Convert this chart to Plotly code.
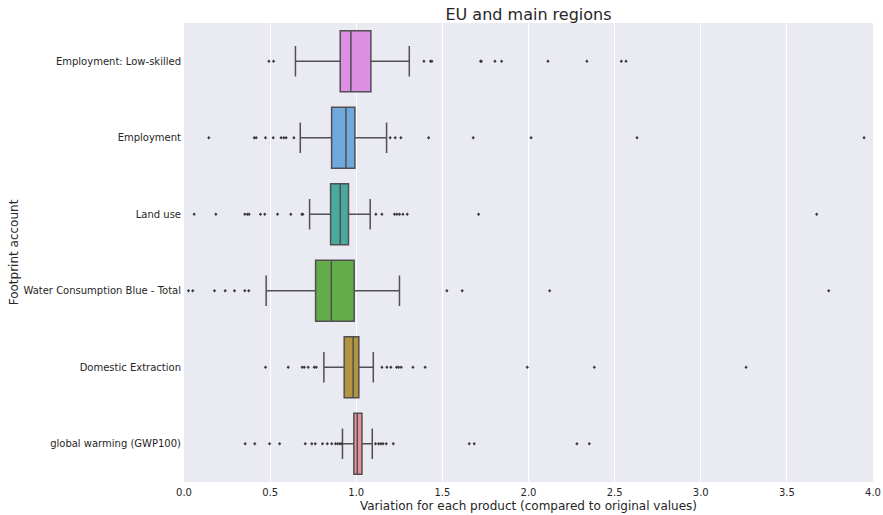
import plotly.graph_objects as go

categories = ["Employment: Low-skilled", "Employment", "Land use",
              "Water Consumption Blue - Total", "Domestic Extraction",
              "global warming (GWP100)"]

q1 = [0.907, 0.857, 0.851, 0.764, 0.930, 0.986]
median = [0.969, 0.940, 0.907, 0.855, 0.982, 1.006]
q3 = [1.085, 0.992, 0.955, 0.988, 1.015, 1.033]
lower_whisker = [0.647, 0.675, 0.729, 0.477, 0.812, 0.920]
upper_whisker = [1.308, 1.176, 1.081, 1.251, 1.099, 1.093]

outliers_low_skilled = [0.493, 0.520, 1.393, 1.431, 1.439, 1.722, 1.726, 1.805, 1.844,
                        2.113, 2.339, 2.539, 2.566]
outliers_employment = [0.144, 0.408, 0.419, 0.473, 0.518, 0.564, 0.580, 0.593, 0.638,
                       1.197, 1.226, 1.259, 1.420, 1.679, 2.015, 2.630, 3.948]
outliers_land_use = [0.059, 0.185, 0.353, 0.368, 0.378, 0.444, 0.469, 0.543, 0.620,
                     0.684, 0.690, 1.114, 1.149, 1.222, 1.236, 1.251, 1.271, 1.296,
                     1.710, 3.673]
outliers_water = [0.026, 0.051, 0.177, 0.239, 0.293, 0.353, 0.376, 1.526, 1.615,
                  2.123, 3.743]
outliers_domestic = [0.473, 0.605, 0.686, 0.698, 0.721, 0.756, 0.768, 1.149, 1.178,
                     1.201, 1.234, 1.246, 1.261, 1.329, 1.400, 1.993, 2.382, 3.263]
outliers_gwp = [0.355, 0.411, 0.497, 0.555, 0.704, 0.742, 0.762, 0.804, 0.832, 0.858,
                0.880, 0.893, 0.905, 0.915, 1.112, 1.130, 1.143, 1.155, 1.174, 1.215,
                1.656, 1.685, 2.281, 2.353]

outliers = [outliers_low_skilled, outliers_employment, outliers_land_use,
            outliers_water, outliers_domestic, outliers_gwp]

colors = ["#dc8fe3", "#6fa9de", "#4aa9a0", "#62ad4a", "#b4953f", "#e9909c"]

x_ticks = [0.0, 0.5, 1.0, 1.5, 2.0, 2.5, 3.0, 3.5, 4.0]

line_col = "#505050"
fig = go.Figure()
for i, cat in enumerate(categories):
    fig.add_trace(go.Box(
        y=[cat], q1=[q1[i]], median=[median[i]], q3=[q3[i]],
        lowerfence=[lower_whisker[i]], upperfence=[upper_whisker[i]],
        orientation="h", fillcolor=colors[i],
        line=dict(color=line_col, width=1.5),
        width=0.8, whiskerwidth=0.5, boxpoints=False, showlegend=False,
    ))
    fig.add_trace(go.Scatter(
        x=outliers[i], y=[cat] * len(outliers[i]), mode="markers",
        marker=dict(symbol="diamond", size=2.5, color="#3a3a3a"),
        showlegend=False, cliponaxis=False,
    ))

fig.update_layout(
    width=883, height=515,
    margin=dict(l=184, r=10, t=23, b=33, autoexpand=False),
    paper_bgcolor="white", plot_bgcolor="#eaeaf2",
    font=dict(family="DejaVu Sans", color="#262626", size=10),
    title=dict(text="EU and main regions", x=0.5, xref="paper", xanchor="center",
               y=1 - 9 / 515, yref="container", yanchor="top",
               font=dict(size=16, color="#262626")),
    boxmode="overlay",
)
fig.update_xaxes(
    range=[0, 4], tickvals=x_ticks, ticktext=[f"{v:.1f}" for v in x_ticks],
    showgrid=True, gridcolor="white", gridwidth=1.3, zeroline=False,
    showline=False, ticks="", automargin=False, ticklabelstandoff=3,
    title=dict(text="Variation for each product (compared to original values)",
               font=dict(size=12), standoff=4),
)
fig.update_yaxes(
    categoryorder="array", categoryarray=categories, range=[5.5, -0.5],
    showgrid=False, zeroline=False, showline=False, ticks="", automargin=False,
    ticklabelstandoff=2,
    title=dict(text="Footprint account", font=dict(size=12), standoff=2),
)

# remove the default 8px page margin so the figure fills the 883x515 window exactly
fig.write_html("out.html", config={"displayModeBar": False},
               post_script="document.body.style.margin='0';")
